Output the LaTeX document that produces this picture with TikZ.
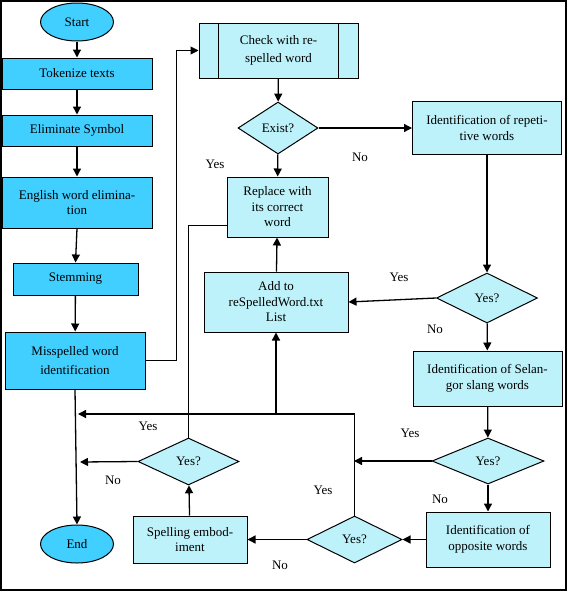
\documentclass[tikz,border=0pt]{standalone}
\usepackage{fontspec}
\setmainfont{Liberation Serif}
\usetikzlibrary{arrows.meta,shapes.geometric}
\usepackage{xcolor}
\definecolor{deepcyan}{RGB}{64,207,255}
\definecolor{palecyan}{RGB}{190,242,250}

\tikzset{
    flow/.style={line width=1.3pt, -{Triangle[length=8pt,width=8pt]}},
    plain/.style={line width=1pt},
    stepbox/.style={rectangle, draw=black, line width=1pt, fill=deepcyan, align=center, inner sep=0pt},
    idbox/.style={rectangle, draw=black, line width=1pt, fill=palecyan, align=center, inner sep=0pt},
    oval/.style={ellipse, draw=black, line width=1pt, fill=deepcyan, inner sep=0pt, minimum width=73pt, minimum height=38pt},
    ask/.style={diamond, draw=black, line width=1pt, fill=palecyan, inner sep=0pt},
    lbl/.style={inner sep=0pt}
}

\begin{document}
\begin{tikzpicture}[x=1pt, y=-1pt, font=\rmfamily\fontsize{13}{15.5}\selectfont]
        \useasboundingbox (0,0) rectangle (568,592);
        \draw[line width=1.2pt] (1,1) rectangle (566,590);

        % left column
        \node[oval] (start) at (77,22) {Start};
        \node[stepbox, minimum width=150pt, minimum height=31pt] (tok) at (77,73.5) {Tokenize texts};
        \node[stepbox, minimum width=150pt, minimum height=31pt] (elim) at (77,130.5) {Eliminate Symbol};
        \node[stepbox, minimum width=150pt, minimum height=51pt] (eng) at (77,202.5) {English word elimina-\\tion};
        \node[stepbox, minimum width=125pt, minimum height=32pt] (stem) at (75.5,279) {Stemming};
        \node[stepbox, minimum width=140pt, minimum height=57pt] (miss) at (75,360.5) {Misspelled word\\[3pt]identification};
        \node[oval] (finish) at (77,544) {End};

        % right part
        \node[idbox, minimum width=159pt, minimum height=55pt] (check) at (278.5,50.5) {Check with re-\\[3pt]spelled word};
        \draw[line width=1pt] ([xshift=20pt]check.north west) -- ([xshift=20pt]check.south west)
            ([xshift=-20pt]check.north east) -- ([xshift=-20pt]check.south east);
        \node[ask, minimum width=80pt, minimum height=52pt] (exist) at (278,128) {Exist?};
        \node[idbox, minimum width=149pt, minimum height=53pt] (repeat) at (487,128) {Identification of repeti-\\tive words};
        \node[idbox, minimum width=101pt, minimum height=60pt] (replace) at (277.5,207) {Replace with\\its correct\\word};
        \node[idbox, minimum width=144pt, minimum height=60pt] (addlist) at (276,302) {Add to\\reSpelledWord.txt\\List};
        \node[ask, minimum width=101pt, minimum height=50pt] (askrep) at (487,298) {Yes?};
        \node[idbox, minimum width=149pt, minimum height=55pt] (slang) at (487.5,378.5) {Identification of Selan-\\gor slang words};
        \node[ask, minimum width=112pt, minimum height=46pt] (askslang) at (488,461) {Yes?};
        \node[idbox, minimum width=124pt, minimum height=55pt] (oppo) at (488,539.5) {Identification of\\opposite words};
        \node[ask, minimum width=95pt, minimum height=47pt] (askoppo) at (354.5,539.5) {Yes?};
        \node[idbox, minimum width=114pt, minimum height=47pt] (spell) at (190,539.5) {Spelling embod-\\iment};
        \node[ask, minimum width=101pt, minimum height=47pt] (askspell) at (188.5,461.5) {Yes?};

        \coordinate (joinyes) at (78,414);
        \coordinate (joinno) at (80,462);
        \coordinate (joinslang) at (354,461);

        % connectors
        \draw[flow] (start) -- (tok);
        \draw[flow] (tok) -- (elim);
        \draw[flow] (elim) -- (eng);
        \draw[flow] (eng.south) -- (stem.north);
        \draw[flow] (stem) -- (miss);
        \draw[flow] (miss.south) -- (finish.north);
        \draw[flow, line width=1pt] (miss.east) -- ++(31,0) |- (check.west);
        \draw[flow] (check) -- (exist);
        \draw[flow] (exist) -- (repeat);
        \draw[flow] (exist) -- (replace);
        \draw[flow] (repeat) -- (askrep);
        \draw[flow] (askrep.west) -- (addlist.east);
        \draw[flow] (addlist) -- (replace);
        \draw[flow] (askrep) -- (slang);
        \draw[flow] (slang) -- (askslang);
        \draw[flow] (askslang.west) -- (joinslang);
        \draw[flow] (askslang) -- (oppo);
        \draw[flow] (oppo) -- (askoppo);
        \draw[flow] (askoppo.north) |- (joinyes);
        \draw[flow] (addlist.south |- joinyes) -- (addlist.south);
        \draw[flow] (askoppo) -- (spell);
        \draw[flow] (spell) -- (askspell);
        \draw[flow] (askspell.west) -- (joinno);
        \draw[plain] (askspell.north) |- ([yshift=-18pt]replace.west);

        % labels
        \node[lbl] (l1) at (215,164) {Yes};
        \node[lbl] (l2) at (360,157) {No};
        \node[lbl] (l3) at (399,277) {Yes};
        \node[lbl] (l4) at (435,329) {No};
        \node[lbl] (l5) at (410,433) {Yes};
        \node[lbl] (l6) at (440,499) {No};
        \node[lbl] (l7) at (323,490) {Yes};
        \node[lbl] (l8) at (148,426) {Yes};
        \node[lbl] (l9) at (113,480) {No};
        \node[lbl] (l10) at (280,565) {No};

        \end{tikzpicture}
\end{document}
